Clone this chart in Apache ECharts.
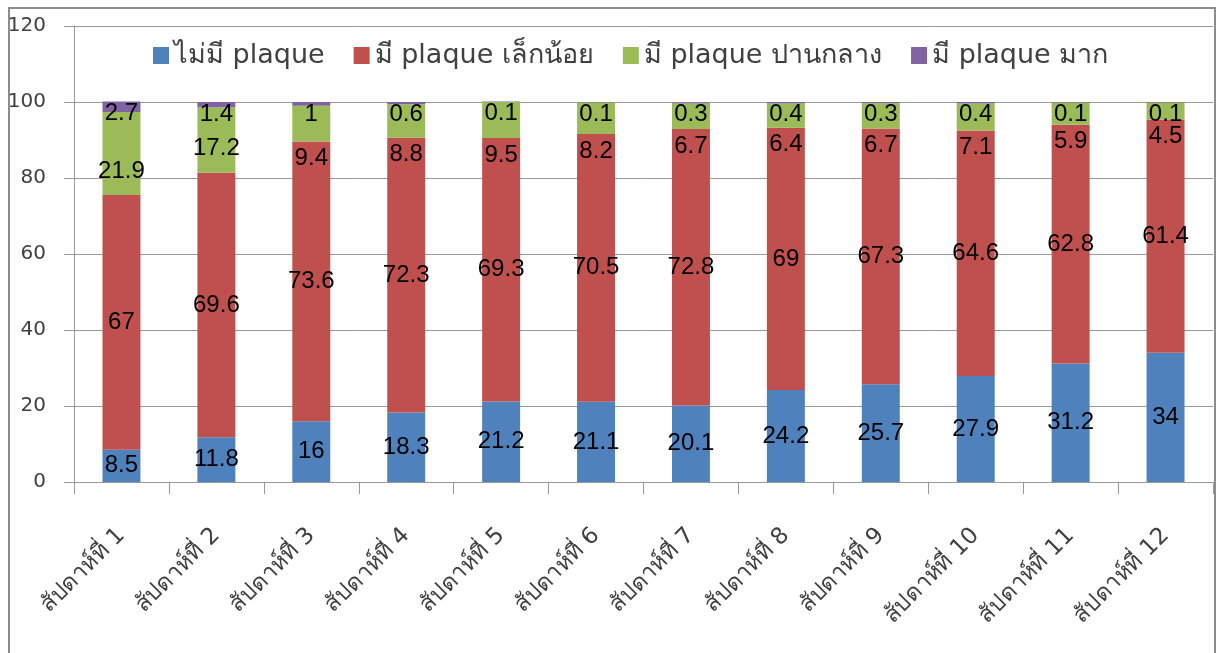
<!DOCTYPE html>
<html>
<head>
<meta charset="utf-8">
<script src="https://cdn.jsdelivr.net/npm/echarts@6/dist/echarts.min.js"></script>
<style>
  html, body { margin: 0; padding: 0; background: #fff; }
  #chart { width: 1219px; height: 653px; }
</style>
</head>
<body>
<div id="chart"></div>
<script>
// Weekly plaque scores (percent of subjects per category)
const weeks = ['สัปดาห์ที่ 1', 'สัปดาห์ที่ 2', 'สัปดาห์ที่ 3', 'สัปดาห์ที่ 4', 'สัปดาห์ที่ 5', 'สัปดาห์ที่ 6',
               'สัปดาห์ที่ 7', 'สัปดาห์ที่ 8', 'สัปดาห์ที่ 9', 'สัปดาห์ที่ 10', 'สัปดาห์ที่ 11', 'สัปดาห์ที่ 12'];
const seriesNames = ['ไม่มี plaque', 'มี plaque เล็กน้อย', 'มี plaque ปานกลาง', 'มี plaque มาก'];
const noPlaque     = [8.5, 11.8, 16, 18.3, 21.2, 21.1, 20.1, 24.2, 25.7, 27.9, 31.2, 34];
const slightPlaque = [67, 69.6, 73.6, 72.3, 69.3, 70.5, 72.8, 69, 67.3, 64.6, 62.8, 61.4];
const mediumPlaque = [21.9, 17.2, 9.4, 8.8, 9.5, 8.2, 6.7, 6.4, 6.7, 7.1, 5.9, 4.5];
const heavyPlaque  = [2.7, 1.4, 1, 0.6, 0.1, 0.1, 0.3, 0.4, 0.3, 0.4, 0.1, 0.1];
const yTicks = [0, 20, 40, 60, 80, 100, 120];

const colors = ['#4f81bd', '#c0504d', '#9bbb59', '#8064a2'];
const labelFont = '"Liberation Sans", "Noto Sans", sans-serif';
const textFont = '"DejaVu Sans", "Noto Sans", sans-serif';
const lineGray = '#999999';

const baseLabel = {
  show: true,
  color: '#000',
  fontSize: 24,
  fontFamily: labelFont,
  formatter: p => String(p.value)
};

// Medium-plaque labels sit under the segment unless the segment is tall
const mediumData = mediumPlaque.map(v => ({
  value: v,
  label: v >= 15 ? { position: 'insideBottom', distance: 12 } : { position: 'bottom', distance: 5 }
}));

const chart = echarts.init(document.getElementById('chart'), null, { renderer: 'canvas' });
chart.setOption({
  animation: false,
  backgroundColor: '#fff',
  color: colors,
  textStyle: { fontFamily: textFont },
  graphic: [{
    type: 'rect',
    shape: { x: 9, y: 8, width: 1206, height: 700 },
    style: { fill: 'none', stroke: '#8c8c8c', lineWidth: 2 },
    silent: true,
    z: -1
  }],
  legend: {
    top: 37,
    left: 148,
    itemWidth: 16,
    itemHeight: 17,
    itemGap: 29,
    icon: 'rect',
    textStyle: { fontSize: 27, color: '#404040', fontFamily: textFont },
    data: seriesNames
  },
  grid: { left: 74, right: 6, top: 26, bottom: 171, containLabel: false },
  xAxis: {
    type: 'category',
    data: weeks,
    axisLine: { lineStyle: { color: lineGray, width: 1 } },
    axisTick: { show: true, length: 12, lineStyle: { color: lineGray } },
    axisLabel: {
      rotate: 45,
      interval: 0,
      margin: 50,
      fontSize: 23,
      color: '#404040',
      fontFamily: textFont
    }
  },
  yAxis: {
    type: 'value',
    min: yTicks[0],
    max: yTicks[yTicks.length - 1],
    interval: 20,
    axisLine: { show: true, lineStyle: { color: lineGray, width: 1 } },
    axisTick: { show: true, length: 10, lineStyle: { color: lineGray } },
    axisLabel: { fontSize: 20, color: '#404040', margin: 28, fontFamily: textFont },
    splitLine: { show: true, lineStyle: { color: lineGray, width: 1 } }
  },
  series: [
    { name: seriesNames[0], type: 'bar', stack: 'total', barWidth: '40%', data: noPlaque,
      label: Object.assign({}, baseLabel, { position: 'inside' }) },
    { name: seriesNames[1], type: 'bar', stack: 'total', data: slightPlaque,
      label: Object.assign({}, baseLabel, { position: 'inside' }) },
    { name: seriesNames[2], type: 'bar', stack: 'total', data: mediumData,
      label: Object.assign({}, baseLabel) },
    { name: seriesNames[3], type: 'bar', stack: 'total', data: heavyPlaque,
      label: Object.assign({}, baseLabel, { position: 'insideTop', distance: 0 }) }
  ]
});
</script>
</body>
</html>
